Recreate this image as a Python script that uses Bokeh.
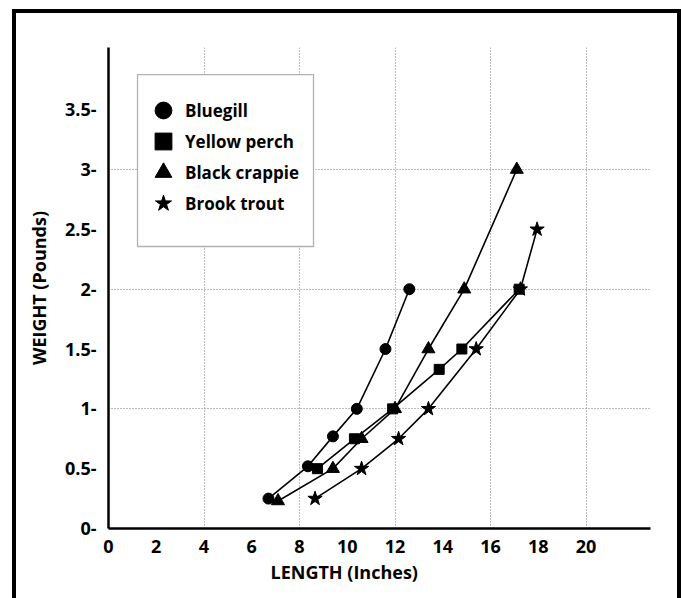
from bokeh.plotting import figure
from bokeh.models import (Range1d, FixedTicker, Legend, LegendItem,
                          BoxAnnotation, Title)
from bokeh.embed import file_html
from bokeh.resources import INLINE

# ---------------- data ----------------
series_names = ["Bluegill", "Yellow perch", "Black crappie", "Brook trout"]

bluegill_length = [6.7, 8.35, 9.4, 10.4, 11.6, 12.6]
bluegill_weight = [0.25, 0.52, 0.77, 1.0, 1.5, 2.0]

perch_length = [8.75, 10.3, 11.9, 13.85, 14.8, 17.2]
perch_weight = [0.5, 0.75, 1.0, 1.33, 1.5, 2.0]

crappie_length = [7.1, 9.4, 10.6, 12.0, 13.4, 14.9, 17.1]
crappie_weight = [0.23, 0.5, 0.75, 1.0, 1.5, 2.0, 3.0]

trout_length = [8.65, 10.6, 12.15, 13.4, 15.4, 17.25, 17.95]
trout_weight = [0.25, 0.5, 0.75, 1.0, 1.5, 2.0, 2.5]

x_ticks = [0, 2, 4, 6, 8, 10, 12, 14, 16, 18, 20]
x_tick_labels = ["0", "2", "4", "6", "8", "10", "12", "14", "16", "18", "20"]
y_ticks = [0, 0.5, 1, 1.5, 2, 2.5, 3, 3.5]
y_tick_labels = ["0-", "0.5-", "1-", "1.5-", "2-", "2.5-", "3-", "3.5-"]
x_grid = [4, 8, 12, 16, 20]
y_grid = [1, 2, 3]

x_title = "LENGTH (Inches)"
y_title = "WEIGHT (Pounds)"

FONT = "Open Sans"

# ---------------- figure ----------------
p = figure(width=681, height=598,
           x_range=Range1d(0, 22.7), y_range=Range1d(0, 4.02),
           output_backend="svg", toolbar_location=None,
           min_border_left=108, min_border_right=31,
           min_border_top=47, min_border_bottom=70)
p.title = None
p.outline_line_color = None
p.background_fill_color = None
p.border_fill_color = None
# thick black frame around the whole graphic (open at the bottom, as cropped in the original)
p.styles = {
    "background-color": "white",
    "background-image": ("linear-gradient(black, black), linear-gradient(black, black), "
                         "linear-gradient(black, black)"),
    "background-size": "4px 600px, 669px 4px, 4px 600px",
    "background-position": "12px 9px, 12px 9px, 677px 9px",
    "background-repeat": "no-repeat",
}

# axes
for ax in (p.xaxis, p.yaxis):
    ax.axis_line_color = "black"
    ax.axis_line_width = 2.5
    ax.major_tick_line_color = None
    ax.minor_tick_line_color = None
    ax.major_tick_out = 0
    ax.major_tick_in = 0
    ax.major_label_text_font = FONT
    ax.major_label_text_font_style = "bold"
    ax.major_label_text_font_size = "18px"
    ax.major_label_text_color = "black"

p.xaxis.ticker = FixedTicker(ticks=x_ticks)
p.xaxis.major_label_overrides = dict(zip(x_ticks, x_tick_labels))
p.xaxis.major_label_standoff = 11

p.yaxis.ticker = FixedTicker(ticks=y_ticks)
p.yaxis.major_label_overrides = dict(zip(y_ticks, y_tick_labels))
p.yaxis.major_label_standoff = 12
p.yaxis.axis_label = y_title
p.yaxis.axis_label_text_font = FONT
p.yaxis.axis_label_text_font_style = "bold"
p.yaxis.axis_label_text_font_size = "18px"
p.yaxis.axis_label_text_color = "black"
p.yaxis.axis_label_standoff = 11

# x axis title, centred on the 0-20 span as in the original
p.add_layout(Title(text=x_title, align="left", offset=162, standoff=4,
                   text_font=FONT, text_font_style="bold",
                   text_font_size="18px", text_color="black"), "below")

# grid
p.xgrid.ticker = FixedTicker(ticks=x_grid)
p.ygrid.ticker = FixedTicker(ticks=y_grid)
for g in (p.xgrid, p.ygrid):
    g.grid_line_color = "#7a7a7a"
    g.grid_line_dash = "1 2"
    g.grid_line_width = 1

# ---------------- series ----------------
series = [
    (bluegill_length, bluegill_weight, "circle", 11),
    (perch_length, perch_weight, "square", 10),
    (crappie_length, crappie_weight, "triangle", 13),
    (trout_length, trout_weight, "star", 15),
]
marker_renderers = []
for xs, ys, mk, sz in series:
    p.line(xs, ys, line_color="black", line_width=1.6)
    r = p.scatter(xs, ys, marker=mk, size=sz, fill_color="black", line_color="black")
    marker_renderers.append(r)

# legend frame
box = BoxAnnotation(left=1.215, right=8.586, top=3.794, bottom=2.357,
                    fill_color="white", fill_alpha=1.0,
                    line_color="black", line_width=1.3)
p.add_layout(box)

# legend: two interleaved columns so rows sit 31 px apart with large symbols
def make_legend(idx, loc):
    return Legend(items=[LegendItem(label=series_names[i], renderers=[marker_renderers[i]])
                         for i in idx],
                  location=loc,
                  glyph_width=42, glyph_height=42, label_height=42,
                  spacing=20, padding=0, margin=0, label_standoff=1,
                  border_line_color=None, background_fill_alpha=0,
                  label_text_font=FONT, label_text_font_style="bold",
                  label_text_font_size="17px", label_text_color="black")

p.add_layout(make_legend([0, 2], (34, 335)))
p.add_layout(make_legend([1, 3], (34, 304)))

open("out.html", "w").write(file_html(p, INLINE))
